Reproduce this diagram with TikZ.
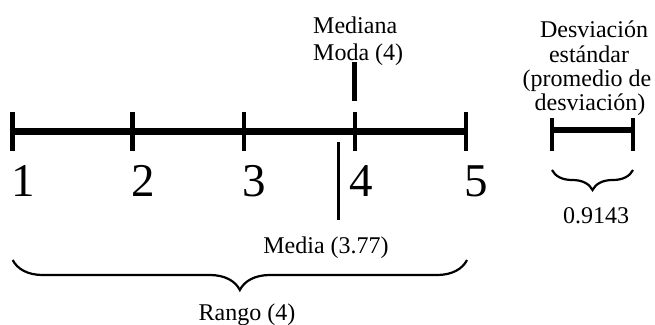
\documentclass[tikz,border=0pt]{standalone}
\usepackage{fontspec}
\setmainfont{Liberation Serif}
\usetikzlibrary{decorations.pathreplacing}
\tikzset{
  axisline/.style={line width=7.5pt},
  tickline/.style={line width=4.5pt},
  markline/.style={line width=4.2pt},
  bracepath/.style={line width=2.2pt, decorate, decoration={brace, amplitude=#1}},
  lbl/.style={inner sep=0pt, anchor=base, font=\fontsize{24}{28}\selectfont},
  lblw/.style={inner sep=0pt, anchor=base west, font=\fontsize{24}{28}\selectfont},
  digit/.style={inner sep=0pt, anchor=base, font=\fontsize{47}{50}\selectfont}
}
\begin{document}
\begin{tikzpicture}[x=1pt,y=-1pt]
\useasboundingbox (0,0) rectangle (655,324);
% main axis
\foreach \n/\x in {1/12.6,2/132.5,3/244,4/355,5/466}{
  \coordinate (t\n) at (\x,112);
  \coordinate (b\n) at (\x,151);
  \coordinate (p\n) at (\x,131.5);
}
\draw[axisline] (p1) -- (p5);
\foreach \n in {1,...,5}{ \draw[tickline] (t\n) -- (b\n); }
% digits
\node[digit] (d1) at (23,196.5) {1};
\node[digit] (d2) at (143,196.5) {2};
\node[digit] (d3) at (254,196.5) {3};
\node[digit] (d4) at (361,196.5) {4};
\node[digit] (d5) at (476,196.5) {5};
% mediana / moda
\node[lblw] (mediana) at (313,33) {Mediana};
\node[lblw] (moda) at (313,60) {Moda (4)};
\coordinate (mdtop) at (354.5,62);
\coordinate (mdbot) at (354.5,101);
\draw[markline] (mdtop) -- (mdbot);
% media
\coordinate (mtop) at (338.5,142);
\coordinate (mbot) at (338.5,220);
\draw[markline, line width=3.6pt] (mtop) -- (mbot);
\node[lbl] (media) at (326,253) {Media (3.77)};
% rango brace
\coordinate (rr) at (467,260);
\coordinate (rl) at (12.7,260);
\draw[bracepath=30pt] (rr) -- (rl);
\node[lbl] (rango) at (247,320) {Rango (4)};
% desviacion
\node[lbl] (dv1) at (594,37) {Desviación};
\node[lbl] (dv2) at (589,62) {estándar};
\node[lbl] (dv3) at (587,86) {(promedio de};
\node[lbl] (dv4) at (590,110) {desviación)};
\coordinate (sl) at (552,130);
\coordinate (sr) at (633,130);
\coordinate (slt) at (552,118);
\coordinate (slb) at (552,151);
\coordinate (srt) at (633,118);
\coordinate (srb) at (633,151);
\draw[line width=6.5pt] (sl) -- (sr);
\draw[tickline] (slt) -- (slb);
\draw[tickline] (srt) -- (srb);
\coordinate (bsr) at (633,170);
\coordinate (bsl) at (552,170);
\draw[bracepath=20pt] (bsr) -- (bsl);
\node[lbl] (sd) at (596,223) {0.9143};
\end{tikzpicture}
\end{document}
